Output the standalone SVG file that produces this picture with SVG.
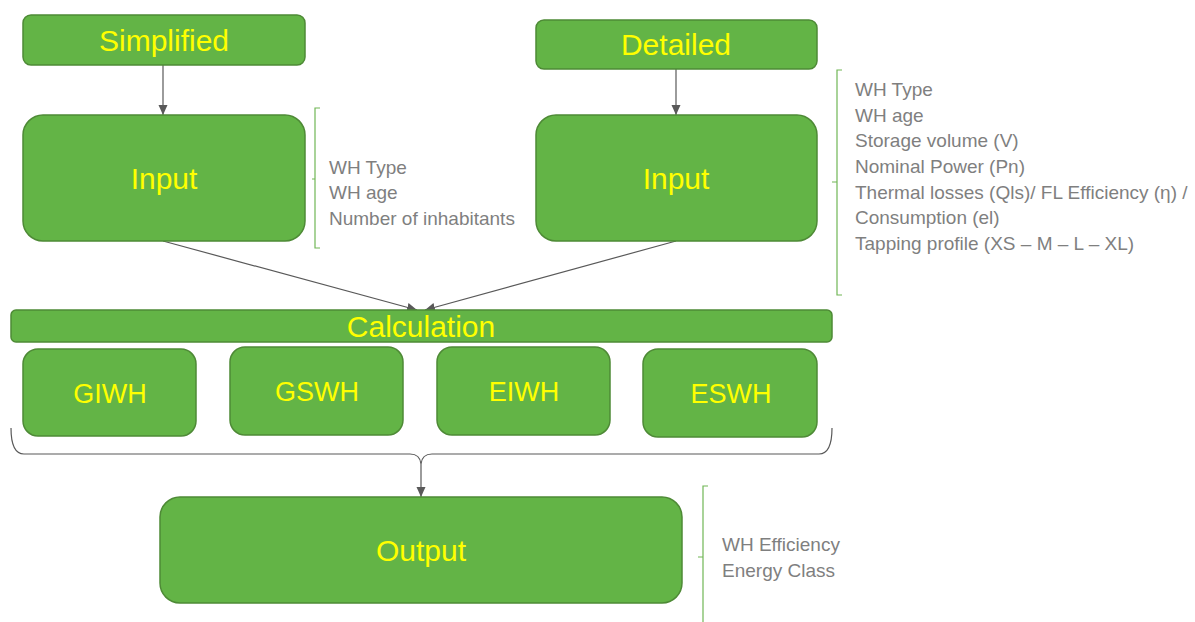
<svg xmlns="http://www.w3.org/2000/svg" width="1195" height="622" viewBox="0 0 1195 622">
  <style>
    .box { fill: #63B446; stroke: #4E8A36; stroke-width: 1.5; }
    .lbl { font-family: "Liberation Sans", Arial, sans-serif; fill: #FFFF00; text-anchor: middle; }
    .big { font-size: 30px; }
    .mid { font-size: 27px; }
    .note { font-family: "Liberation Sans", Arial, sans-serif; font-size: 19px; fill: #7F7F7F; }
    .brk { fill: none; stroke: #70B655; stroke-width: 1.2; }
    .con { fill: none; stroke: #595959; stroke-width: 1.2; }
  </style>
  <defs>
    <marker id="arr" viewBox="0 0 10 10" refX="10" refY="5" markerWidth="10" markerHeight="10" markerUnits="userSpaceOnUse" orient="auto">
      <path d="M0,0.5 L10,5 L0,9.5 Z" fill="#595959"/>
    </marker>
  </defs>
  <rect width="1195" height="622" fill="#FFFFFF"/>

  <g id="connectors">
    <line class="con" x1="163" y1="65" x2="163" y2="115" marker-end="url(#arr)"/>
    <line class="con" x1="676" y1="69" x2="676" y2="115" marker-end="url(#arr)"/>
    <line class="con" x1="163" y1="241" x2="417" y2="310" marker-end="url(#arr)"/>
    <line class="con" x1="676" y1="241" x2="425" y2="310" marker-end="url(#arr)"/>
    <path class="con" d="M11,428 Q11,454 24,454 L410,454 Q420,454 421,464 Q422,454 432,454 L819,454 Q832,454 832,428"/>
    <line class="con" x1="421" y1="464" x2="421" y2="497" marker-end="url(#arr)"/>
  </g>

  <g id="simplified">
    <rect class="box" x="23" y="15" width="282" height="50" rx="8"/>
    <text class="lbl big" x="164" y="51">Simplified</text>
  </g>
  <g id="detailed">
    <rect class="box" x="536" y="20" width="281" height="49" rx="8"/>
    <text class="lbl big" x="676" y="55">Detailed</text>
  </g>
  <g id="input-simplified">
    <rect class="box" x="23" y="115" width="282" height="126" rx="20"/>
    <text class="lbl big" x="164" y="189">Input</text>
  </g>
  <g id="input-detailed">
    <rect class="box" x="536" y="115" width="281" height="126" rx="20"/>
    <text class="lbl big" x="676" y="189">Input</text>
  </g>

  <g id="notes-simplified">
    <path class="brk" d="M320,108 L315,108 L315,248 L320,248 M312,179 L315,179"/>
    <text class="note" x="329" y="174">WH Type</text>
    <text class="note" x="329" y="199">WH age</text>
    <text class="note" x="329" y="225">Number of inhabitants</text>
  </g>
  <g id="notes-detailed">
    <path class="brk" d="M842,70 L837,70 L837,295 L842,295 M832,182 L837,182"/>
    <text class="note" x="855" y="96">WH Type</text>
    <text class="note" x="855" y="122">WH age</text>
    <text class="note" x="855" y="147">Storage volume (V)</text>
    <text class="note" x="855" y="173">Nominal Power (Pn)</text>
    <text class="note" x="855" y="199">Thermal losses (Qls)/ FL Efficiency (η) /</text>
    <text class="note" x="855" y="224">Consumption (el)</text>
    <text class="note" x="855" y="250">Tapping profile (XS – M – L – XL)</text>
  </g>

  <g id="calculation">
    <rect class="box" x="11" y="310" width="821" height="32" rx="5"/>
    <text class="lbl big" x="421" y="337">Calculation</text>
  </g>
  <g id="giwh">
    <rect class="box" x="23" y="349" width="173" height="87" rx="15"/>
    <text class="lbl mid" x="110" y="403">GIWH</text>
  </g>
  <g id="gswh">
    <rect class="box" x="230" y="347" width="173" height="88" rx="15"/>
    <text class="lbl mid" x="317" y="401">GSWH</text>
  </g>
  <g id="eiwh">
    <rect class="box" x="437" y="347" width="173" height="88" rx="15"/>
    <text class="lbl mid" x="524" y="401">EIWH</text>
  </g>
  <g id="eswh">
    <rect class="box" x="643" y="349" width="174" height="88" rx="15"/>
    <text class="lbl mid" x="731" y="403">ESWH</text>
  </g>

  <g id="output">
    <rect class="box" x="160" y="497" width="522" height="106" rx="20"/>
    <text class="lbl big" x="421" y="561">Output</text>
  </g>
  <g id="notes-output">
    <path class="brk" d="M708,486 L703,486 L703,626 L708,626 M698,557 L703,557"/>
    <text class="note" x="722" y="551">WH Efficiency</text>
    <text class="note" x="722" y="577">Energy Class</text>
  </g>
</svg>
